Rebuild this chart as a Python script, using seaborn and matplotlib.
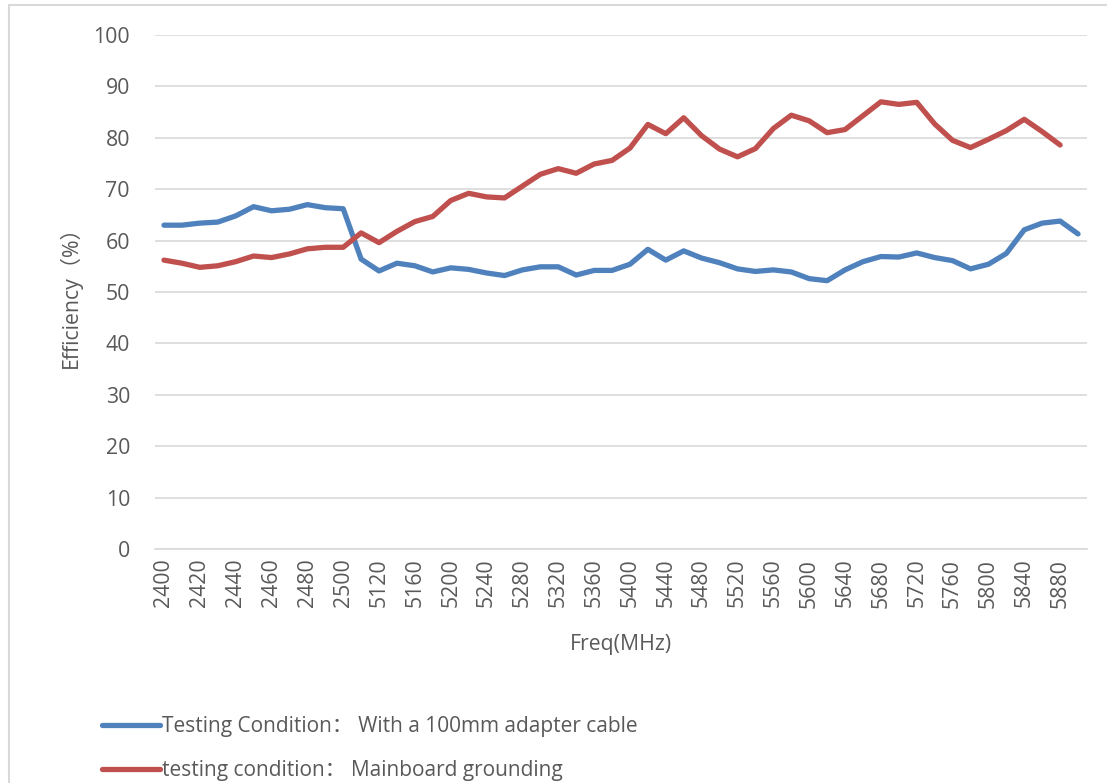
import matplotlib
matplotlib.use("Agg")
import matplotlib.pyplot as plt
import seaborn as sns
import pandas as pd
import numpy as np
from matplotlib.lines import Line2D
from matplotlib.patches import Rectangle

freqs = [2400, 2410, 2420, 2430, 2440, 2450, 2460, 2470, 2480, 2490, 2500,
         5100, 5120, 5140, 5160, 5180, 5200, 5220, 5240, 5260, 5280, 5300,
         5320, 5340, 5360, 5380, 5400, 5420, 5440, 5460, 5480, 5500, 5520,
         5540, 5560, 5580, 5600, 5620, 5640, 5660, 5680, 5700, 5720, 5740,
         5760, 5780, 5800, 5820, 5840, 5860, 5880, 5900]

cable = [63.0, 63.0, 63.4, 63.6, 64.8, 66.6, 65.8, 66.1, 67.0, 66.4, 66.2,
         56.4, 54.1, 55.6, 55.1, 53.9, 54.7, 54.4, 53.7, 53.2, 54.3, 54.9,
         54.9, 53.3, 54.2, 54.2, 55.4, 58.3, 56.2, 58.0, 56.6, 55.7, 54.5,
         54.0, 54.3, 53.9, 52.6, 52.2, 54.3, 55.9, 56.9, 56.8, 57.6, 56.7,
         56.1, 54.5, 55.4, 57.5, 62.1, 63.4, 63.8, 61.3]

mainboard = [56.2, 55.6, 54.8, 55.1, 55.9, 57.0, 56.7, 57.4, 58.4, 58.7, 58.7,
             61.5, 59.6, 61.8, 63.7, 64.7, 67.8, 69.2, 68.5, 68.3, 70.6, 72.9,
             74.0, 73.1, 74.9, 75.6, 78.0, 82.6, 80.8, 83.9, 80.4, 77.8, 76.3,
             77.9, 81.8, 84.4, 83.3, 81.0, 81.6, 84.3, 87.0, 86.5, 86.9, 82.7,
             79.5, 78.1, 79.7, 81.4, 83.6, 81.2, 78.6, np.nan]

series_names = ["Testing Condition\uff1a With a 100mm adapter cable",
                "testing condition\uff1a Mainboard grounding"]
colors = ["#4F81BD", "#C0504D"]

labels = [str(f) for f in freqs]
df = pd.concat([
    pd.DataFrame({"freq": labels, "eff": cable, "series": series_names[0]}),
    pd.DataFrame({"freq": labels, "eff": mainboard, "series": series_names[1]}),
], ignore_index=True).dropna()

sns.set_theme(style="white")
fam = ["Open Sans", "Noto Sans CJK SC", "DejaVu Sans"]
plt.rcParams["font.family"] = fam
FS = 15.3
TXT = "#595959"

fig = plt.figure(figsize=(11.07, 7.83), dpi=100)
ax = fig.add_axes([155 / 1107, 1 - 549 / 783, (1087 - 155) / 1107, (549 - 35) / 783])

# chart border
fig.patches.append(Rectangle((8.5 / 1107, -0.05), 1.2, 1 - 5.5 / 783 + 0.05,
                             transform=fig.transFigure, fill=False,
                             edgecolor="#d9d9d9", linewidth=1.5, zorder=0))

sns.lineplot(data=df, x="freq", y="eff", hue="series", palette=colors,
             sort=False, estimator=None, linewidth=3.8, ax=ax, legend=False)

ax.set_ylim(0, 100)
ax.set_yticks(range(0, 101, 10))
ax.set_xlim(-0.5, len(freqs) - 0.5)
ax.set_xticks(range(0, len(freqs), 2))
ax.set_xticklabels(labels[::2], rotation=90)
ax.grid(axis="y", color="#d9d9d9", linewidth=1.2)
ax.grid(axis="x", visible=False)
for s in ["top", "right", "left"]:
    ax.spines[s].set_visible(False)
ax.spines["bottom"].set_color("#d9d9d9")
ax.spines["bottom"].set_linewidth(1.2)
ax.tick_params(axis="both", length=0, labelsize=FS, colors=TXT)
ax.tick_params(axis="x", pad=7)
ax.tick_params(axis="y", pad=18)

ax.set_xlabel("Freq(MHz)", fontsize=FS, color=TXT, labelpad=19)
ax.set_ylabel("Efficiency\uff08%\uff09", fontsize=FS, color=TXT, labelpad=8)

handles = [Line2D([0], [0], color=c, linewidth=3.8, solid_capstyle="round") for c in colors]
leg = fig.legend(handles, series_names, loc="upper left",
                 bbox_to_anchor=(94 / 1107, 1 - 708 / 783),
                 frameon=False, fontsize=15, handlelength=2.75,
                 handletextpad=0.1, labelspacing=1.1, borderaxespad=0)
for t in leg.get_texts():
    t.set_color(TXT)

fig.savefig("out.png", dpi=100)
